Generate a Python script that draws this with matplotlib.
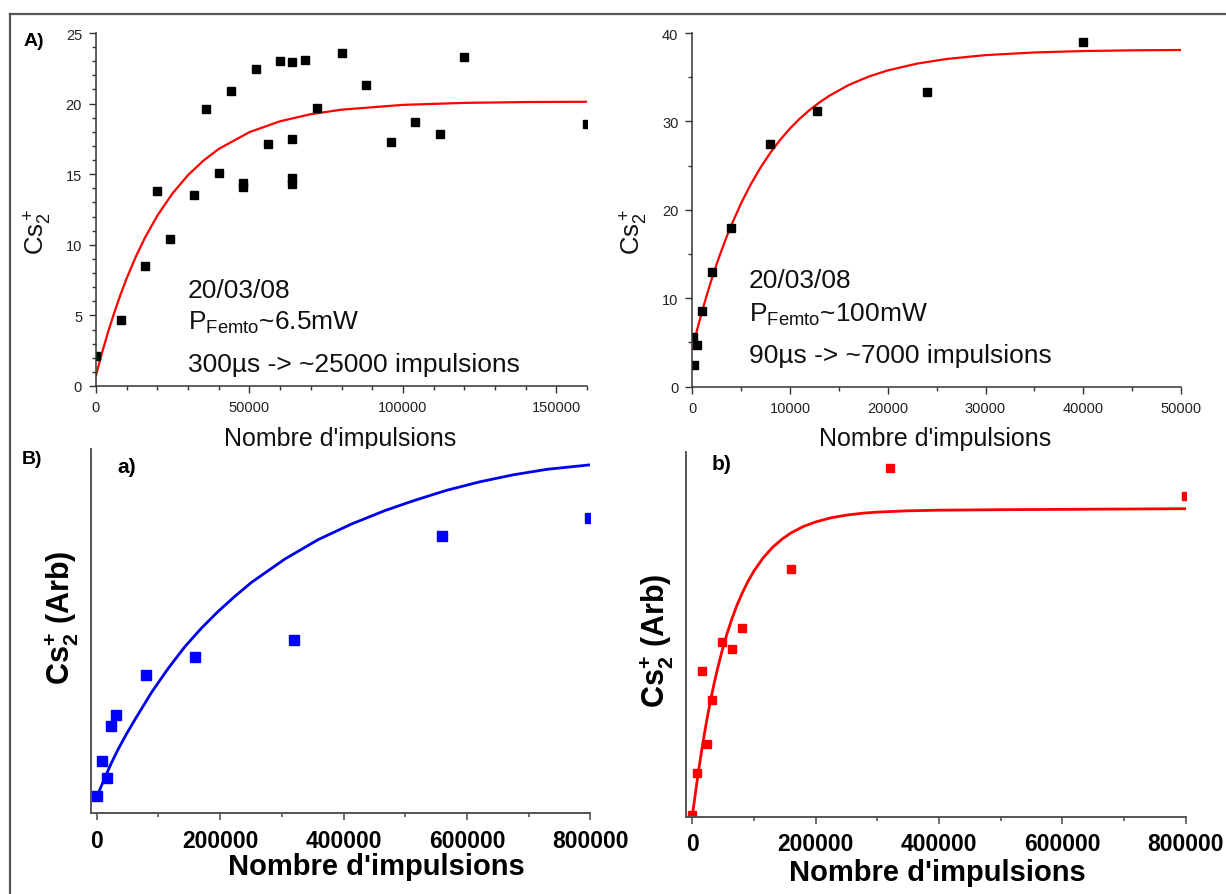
import matplotlib
matplotlib.use('Agg')
import matplotlib.pyplot as plt
from matplotlib.lines import Line2D
from matplotlib.ticker import MultipleLocator, NullLocator

plt.rcParams['font.family'] = ['Liberation Sans', 'DejaVu Sans']
plt.rcParams['mathtext.fontset'] = 'custom'
plt.rcParams['mathtext.rm'] = 'Liberation Sans'
plt.rcParams['mathtext.it'] = 'Liberation Sans'
plt.rcParams['mathtext.bf'] = 'Liberation Sans:bold'

W, H = 1226, 895

# ---- data ----
# A) left : 6.5 mW
a1_x = [0, 8000, 16000, 20000, 24000, 32000, 36000, 40000, 44000, 48000, 48000,
        52000, 56000, 60000, 64000, 64000, 64000, 64000, 68000, 72000, 80000,
        88000, 96000, 104000, 112000, 120000, 160000]
a1_y = [2.14, 4.65, 8.53, 13.78, 10.44, 13.5, 19.6, 15.06, 20.92, 14.35, 14.1,
        22.48, 17.13, 23.02, 22.93, 17.48, 14.7, 14.3, 23.11, 19.7, 23.59,
        21.32, 17.3, 18.73, 17.88, 23.33, 18.52]
# fitted curve, values
a1_fit_x = [0, 2000, 4000, 6000, 8000, 10000, 13000, 16000, 20000, 25000, 30000,
            35000, 40000, 50000, 60000, 70000, 80000, 100000, 120000, 140000, 160000]
a1_fit_y = [0.75, 2.38, 3.87, 5.23, 6.48, 7.63, 9.17, 10.52, 12.07, 13.66, 14.94,
            15.96, 16.79, 17.98, 18.75, 19.25, 19.57, 19.91, 20.05, 20.11, 20.13]

# A) right : 100 mW
a2_x = [200, 100, 500, 1000, 2000, 4000, 8000, 12800, 24000, 40000]
a2_y = [2.5, 5.6, 4.7, 8.55, 12.92, 17.97, 27.5, 31.2, 33.3, 38.98]
a2_fit_x = [0, 500, 1000, 1500, 2000, 2500, 3000, 3500, 4000, 5000, 6000, 7000,
            8000, 9000, 10000, 11000, 12000, 13000, 14000, 16000, 18000, 20000,
            23000, 26000, 30000, 35000, 40000, 45000, 50000]
a2_fit_y = [4.30, 6.48, 8.52, 10.43, 12.22, 13.89, 15.45, 16.91, 18.28, 20.76, 22.92,
            24.82, 26.48, 27.93, 29.21, 30.32, 31.29, 32.14, 32.89, 34.12, 35.05,
            35.77, 36.54, 37.06, 37.50, 37.80, 37.96, 38.04, 38.08]

# B) a)  (arbitrary units)
ba_x = [0, 8000, 16000, 24000, 32000, 80000, 160000, 320000, 560000, 800000]
ba_y = [17.7, 52, 35, 87, 98.7, 138.7, 156, 173.7, 277.6, 295]
ba_fit_x = [0, 6000, 13500, 24000, 35000, 48000, 62000, 89000, 116000, 143000,
            170000, 197000, 224000, 251000, 305000, 359000, 413000, 467000, 513000,
            567000, 621000, 675000, 730000, 800000]
ba_fit_y = [16, 25, 36, 50.5, 64.3, 79, 93.7, 121, 145, 166.7, 185.3, 202, 217, 231,
            254.3, 273.7, 289.3, 302.7, 312.5, 323, 331.5, 338.5, 344, 348.5]

# B) b)  (arbitrary units)
bb_x = [0, 8000, 16000, 24000, 32000, 48000, 64000, 80000, 160000, 320000, 800000]
bb_y = [2, 43.7, 145.3, 72.7, 116.7, 175, 167.7, 189, 247.7, 349, 320.4]
bb_fit_x = [0, 5000, 10000, 15000, 20000, 25000, 30000, 35000, 40000, 48000, 56000,
            64000, 72000, 80000, 90000, 100000, 115000, 130000, 145000, 160000,
            180000, 200000, 225000, 250000, 275000, 300000, 350000, 400000, 500000,
            800000]
bb_fit_y = [1, 23.8, 45.7, 66.0, 84.6, 101.9, 117.8, 132.4, 146.0, 165.4, 182.6,
            197.6, 210.9, 222.5, 235.1, 245.8, 259.0, 269.3, 277.4, 283.8, 290.2,
            294.8, 298.9, 301.6, 303.4, 304.6, 305.9, 306.5, 307, 308]


def box(l, t, r, b):
    return [l / W, 1 - b / H, (r - l) / W, (b - t) / H]


fig = plt.figure(figsize=(W / 100, H / 100), dpi=100)

# frame lines round the figure
fig.add_artist(Line2D([10 / W, 1], [1 - 15 / H, 1 - 15 / H], color='#555555', lw=1.6))
fig.add_artist(Line2D([10 / W, 10 / W], [0, 1 - 15 / H], color='#555555', lw=1.6))

ax1 = fig.add_axes(box(96, 34, 587, 387))
ax2 = fig.add_axes(box(692.3, 34, 1181, 387.7))
ax3 = fig.add_axes(box(90.5, 450, 590.4, 814.3))
ax4 = fig.add_axes(box(686.2, 453.3, 1185.6, 817.7))

for ax in (ax1, ax2, ax3, ax4):
    ax.spines['top'].set_visible(False)
    ax.spines['right'].set_visible(False)

# ---- A panels ----
ax1.plot(a1_fit_x, a1_fit_y, color='red', lw=1.6)
ax1.plot(a1_x, a1_y, 's', color='black', ms=5.8)
ax1.set_xlim(0, 160000)
ax1.set_ylim(0, 25)
ax1.xaxis.set_major_locator(MultipleLocator(50000))
ax1.xaxis.set_minor_locator(MultipleLocator(10000))
ax1.yaxis.set_major_locator(MultipleLocator(5))
ax1.yaxis.set_minor_locator(MultipleLocator(1))

ax2.plot(a2_fit_x, a2_fit_y, color='red', lw=1.6)
ax2.plot(a2_x, a2_y, 's', color='black', ms=5.8)
ax2.set_xlim(0, 50000)
ax2.set_ylim(0, 40)
ax2.xaxis.set_major_locator(MultipleLocator(10000))
ax2.xaxis.set_minor_locator(MultipleLocator(5000))
ax2.yaxis.set_major_locator(MultipleLocator(10))
ax2.yaxis.set_minor_locator(MultipleLocator(5))

for ax in (ax1, ax2):
    for s in ('left', 'bottom'):
        ax.spines[s].set_color('#333333')
        ax.spines[s].set_linewidth(1.1)
    ax.tick_params(which='both', direction='out', color='#333333', width=1.0,
                   labelsize=10.5, labelcolor='#222222', pad=5)
    ax.tick_params(which='major', length=5)
    ax.tick_params(which='minor', length=3)
    ax.set_xlabel("Nombre d'impulsions", fontsize=18, color='#111111')
    ax.xaxis.set_label_coords(0.497, -0.112)
    ax.set_ylabel(r'Cs$_2^+$', fontsize=18.5, color='#111111')
    ax.yaxis.set_label_coords(-0.086, 0.44)

ax1.text(30000, 6.32, '20/03/08', fontsize=19, color='#111111', va='baseline')
ax1.text(30000, 4.04, r'P$_{\mathrm{Femto}}$~6.5mW', fontsize=19, color='#111111', va='baseline')
ax1.text(30000, 1.08, '300µs -> ~25000 impulsions', fontsize=19, color='#111111', va='baseline')

ax2.text(5750, 11.23, '20/03/08', fontsize=19, color='#111111', va='baseline')
ax2.text(5750, 7.46, r'P$_{\mathrm{Femto}}$~100mW', fontsize=19, color='#111111', va='baseline')
ax2.text(5750, 2.83, '90µs -> ~7000 impulsions', fontsize=19, color='#111111', va='baseline')

# ---- B panels ----
ax3.plot(ba_fit_x, ba_fit_y, color='#0000ee', lw=2.0)
ax3.plot(ba_x, ba_y, 's', color='#0000ff', ms=7.2)
ax3.set_ylim(0, 364.3)

ax4.plot(bb_fit_x, bb_fit_y, color='red', lw=2.0)
ax4.plot(bb_x, bb_y, 's', color='red', ms=6.3)
ax4.set_ylim(0, 364.4)

for ax in (ax3, ax4):
    ax.set_xlim(-10000, 800000)
    for s in ('left', 'bottom'):
        ax.spines[s].set_color('#555555')
        ax.spines[s].set_linewidth(1.4)
    ax.xaxis.set_major_locator(MultipleLocator(200000))
    ax.xaxis.set_minor_locator(MultipleLocator(100000))
    ax.yaxis.set_major_locator(NullLocator())
    ax.yaxis.set_minor_locator(NullLocator())
    ax.tick_params(axis='x', which='both', direction='out', color='#555555', width=1.2,
                   labelsize=16.5, pad=6)
    ax.tick_params(axis='x', which='major', length=5)
    ax.tick_params(axis='x', which='minor', length=3)
    for lab in ax.get_xticklabels():
        lab.set_fontweight('bold')
    ax.set_xlabel("Nombre d'impulsions", fontsize=21, fontweight='bold')
    ax.set_ylabel(r'$\mathbf{Cs}_{\mathbf{2}}^{\mathbf{+}}$ (Arb)', fontsize=22, fontweight='bold')

ax3.xaxis.set_label_coords(0.571, -0.105)
ax3.yaxis.set_label_coords(-0.022, 0.54)
ax4.xaxis.set_label_coords(0.502, -0.114)
ax4.yaxis.set_label_coords(-0.023, 0.485)

ax3.text(117 / W, 1 - 468 / H, 'a)', transform=fig.transFigure, fontsize=15,
         fontweight='bold', va='center')
ax4.text(712 / W, 1 - 465 / H, 'b)', transform=fig.transFigure, fontsize=15,
         fontweight='bold', va='center')

fig.text(24 / W, 1 - 42 / H, 'A)', fontsize=14, fontweight='bold', va='center')
fig.text(22 / W, 1 - 460 / H, 'B)', fontsize=14, fontweight='bold', va='center')

fig.savefig('out.png', dpi=100)
